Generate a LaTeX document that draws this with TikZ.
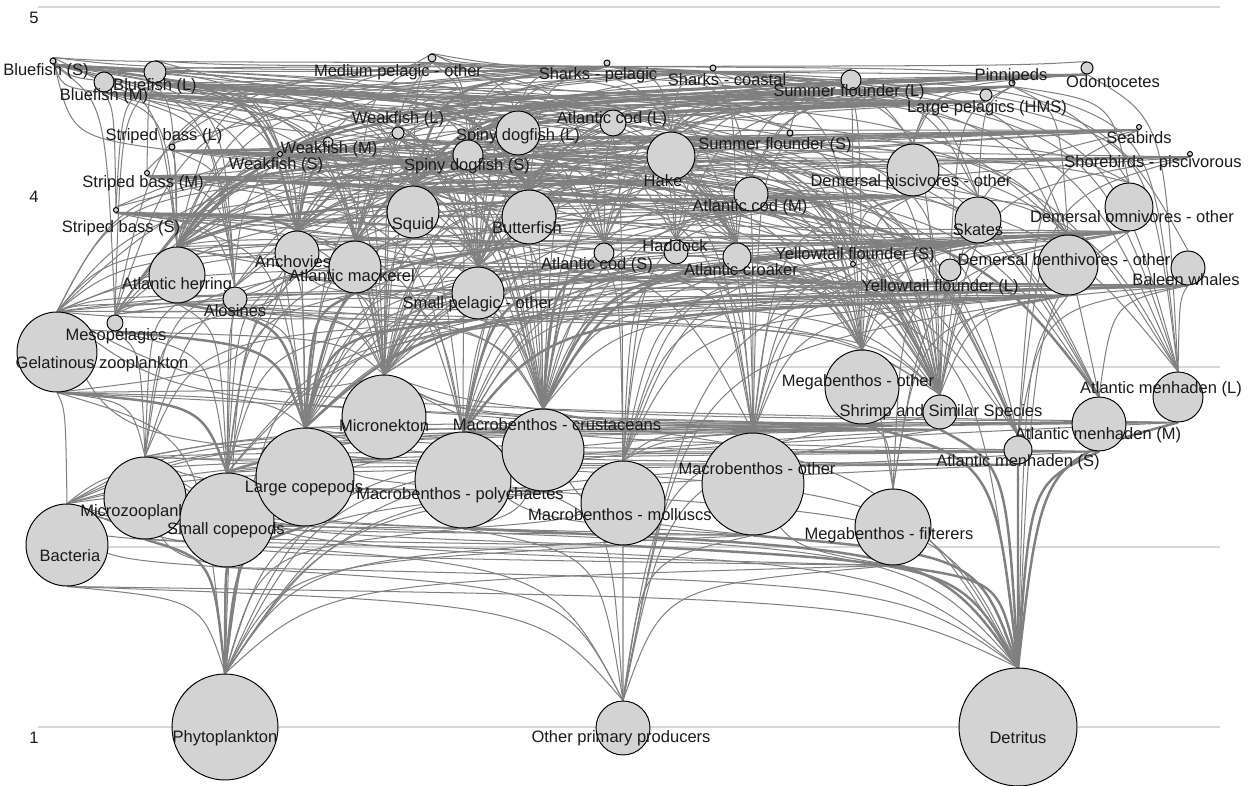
\documentclass[tikz,border=0pt]{standalone}
\usepackage{fontspec}
\setmainfont{Liberation Sans}
\usepackage{xcolor}
\usepackage{tikz}
\usetikzlibrary{backgrounds, calc}
\definecolor{gris}{HTML}{808080}
\definecolor{grisclaro}{HTML}{D8D8D8}
\definecolor{relleno}{HTML}{D3D3D3}
\definecolor{texto}{HTML}{1A1A1A}
\tikzset{
  grupo/.style={circle, draw=black, line width=0.55pt, fill=relleno, inner sep=0pt},
  etiqueta/.style={font=\fontsize{9.4}{11}\selectfont, text=texto, inner sep=0pt},
  flujo/.style={draw=gris, line width=0.58pt,
    to path={.. controls ($(\tikztostart |- \tikztotarget)!0.3!($(\tikztostart)!0.5!(\tikztotarget)$)$) .. (\tikztotarget)}},
  fuerte/.style={flujo, line width=1.4pt},
  nivel/.style={draw=grisclaro, line width=0.6pt}
}

\begin{document}
\begin{tikzpicture}[x=0.02cm, y=-0.02cm]
  \useasboundingbox (0,0) rectangle (1254,786);

  % --- Niveles troficos ---
  \begin{scope}[on background layer]
    \foreach \ny in {7,367,547,727}
      \draw[nivel] (38,\ny) -- (1220,\ny);
  \end{scope}
  \node[etiqueta] (n5) at (34,18) {5};
  \node[etiqueta] (n4) at (34,197) {4};
  \node[etiqueta] (n1) at (34,738) {1};

  % --- Grupos funcionales (nombre/x/y/radio/texto/x texto/y texto) ---
  \foreach \n/\x/\y/\r/\t/\lx/\ly in {
    bfS/53/61/3/{Bluefish (S)}/46/71,
    bfM/104/82/10/{Bluefish (M)}/104/96,
    bfL/155/72/11/{Bluefish (L)}/155/86,
    sbL/172/147/3/{Striped bass (L)}/164/136,
    sbM/147/173/2.5/{Striped bass (M)}/143/183,
    sbS/116/210/2.5/{Striped bass (S)}/121/228,
    mpo/432/58/4/{Medium pelagic - other}/398/72,
    wfL/398/133/6/{Weakfish (L)}/398/119,
    wfM/328/142/5/{Weakfish (M)}/329/149,
    wfS/280/154/2.5/{Weakfish (S)}/276/165,
    shp/607/63/3/{Sharks - pelagic}/598/75,
    shc/713/68/3/{Sharks - coastal}/727/80,
    sfL/851/80/10/{Summer flounder (L)}/849/92,
    sfS/790/133/3/{Summer flounder (S)}/775/145,
    pin/1012/83/3/{Pinnipeds}/1011/76,
    odo/1087/68/6/{Odontocetes}/1113/82,
    lph/986/95/6/{Large pelagics (HMS)}/987/108,
    sea/1139/127/2.5/{Seabirds}/1139/138,
    sho/1190/154/2.5/{Shorebirds - piscivorous}/1153/163,
    sdL/518/133/22/{Spiny dogfish (L)}/518/136,
    sdS/468/155/15/{Spiny dogfish (S)}/467/166,
    acL/613/123/13/{Atlantic cod (L)}/612/119,
    hak/671/156/24/{Hake}/663/181,
    dpo/913/170/26/{Demersal piscivores - other}/911/182,
    acM/751/194/17/{Atlantic cod (M)}/750/207,
    squ/413/212/26/{Squid}/413/225,
    but/529/217/27/{Butterfish}/527/228,
    ska/978/220/23/{Skates}/978/230,
    dom/1129/207/24/{Demersal omnivores - other}/1132/217,
    anc/297/253/22/{Anchovies}/293/262,
    mac/355/267/26/{Atlantic mackerel}/352/276,
    her/177/275/28/{Atlantic herring}/177/285,
    alo/235/299/12/{Alosines}/235/311,
    spo/478/293/26/{Small pelagic - other}/478/304,
    acS/604/253/10/{Atlantic cod (S)}/597/265,
    had/676/252/12/{Haddock}/675/246,
    cro/737/257/14/{Atlantic croaker}/741/270,
    yfS/853/264/2.5/{Yellowtail flounder (S)}/855/255,
    yfL/950/270/11/{Yellowtail flounder (L)}/940/287,
    dbo/1068/265/30/{Demersal benthivores - other}/1064/260,
    bal/1188/268/17/{Baleen whales}/1186/280,
    gel/57/352/40/{Gelatinous zooplankton}/102/364,
    mes/115/323/8/{Mesopelagics}/116/336,
    meo/862/387/37/{Megabenthos - other}/858/382,
    shr/940/412/17/{Shrimp and Similar Species}/941/412,
    amL/1178/397/25/{Atlantic menhaden (L)}/1161/389,
    amM/1099/424/27/{Atlantic menhaden (M)}/1098/435,
    amS/1018/450/14/{Atlantic menhaden (S)}/1018/462,
    mic/384/417/42/{Micronekton}/384/426,
    mbp/463/480/48/{Macrobenthos - polychaetes}/460/495,
    mbc/543/450/41/{Macrobenthos - crustaceans}/557/425,
    bac/67/545/41/{Bacteria}/70/556,
    mzo/145/498/41/{Microzooplankton}/145/512,
    sco/227/520/47/{Small copepods}/226/530,
    lco/305/477/49/{Large copepods}/304/488,
    mbm/623/503/42/{Macrobenthos - molluscs}/620/515,
    mbo/753/484/51/{Macrobenthos - other}/757/469,
    mef/893/527/38/{Megabenthos - filterers}/889/535,
    phy/225/727/53/{Phytoplankton}/225/738,
    opp/623/728/27/{Other primary producers}/621/738,
    det/1018/727/59/{Detritus}/1018/738}{
    \node[grupo, minimum size=\r*0.04cm] (\n) at (\x,\y) {};
    \node[etiqueta] (\n-txt) at (\lx,\ly) {\t};
  }

  % --- Flujos presa -> depredador ---
  \begin{scope}[on background layer]
  \foreach \dep/\presas in {
    bfL/{bfM,bfS,sbS,sbM,wfS,wfM,mpo,squ,but,anc,her,mac,alo,spo,mes,sdS,hak,acS,had,cro,amL,amM,amS,shr,mbc,mic,sfS,yfS,dbo},
    bfM/{bfS,squ,but,anc,her,mac,alo,spo,wfS,sbS,amM,amS,shr,mbc,mic,cro,hak,acS,sfS},
    bfS/{anc,spo,shr,mbc,mic,amS,but,squ,lco,alo,her,cro,wfS,mes},
    sbL/{her,mac,alo,amL,amM,squ,but,wfS,wfM,bfS,hak,cro,mbc,meo,shr,spo,sdS,acS},
    sbM/{amM,amS,alo,anc,her,shr,mbc,mbp,meo,cro,spo,wfS,squ,but},
    sbS/{anc,amS,shr,mbc,mbp,mic,lco,alo,spo,cro,mbo},
    wfL/{anc,but,squ,amS,amM,shr,spo,wfS,cro,her,mbc,mic},
    wfM/{anc,but,shr,squ,amS,spo,mbc,mic,cro},
    wfS/{shr,mbc,mic,lco,sco,anc,mbp},
    mpo/{squ,but,her,mac,spo,anc,hak,mes,mic,amL,sdS,acS,cro,bfS},
    shp/{squ,bfL,bfM,mac,her,hak,but,spo,mpo,sdS,sdL,acM,dpo,ska,amL,bal,mes,wfL,sbL,odo,pin},
    shc/{sdS,ska,bfM,bfS,amL,amM,hak,squ,dbo,dom,sfL,wfM,sbM,meo,cro,spo,her,mac},
    sfL/{squ,her,anc,hak,spo,shr,mbc,meo,sfS,yfS,but,cro,wfS,sdS,acS,had},
    sfS/{shr,mbc,mbp,anc,squ,spo,mic,mbo,meo},
    pin/{her,mac,hak,squ,ska,acM,acS,spo,sdS,dbo,dom,but,had,yfL,amL,mes,dpo},
    odo/{squ,her,mac,hak,spo,but,mes,anc,amL,acS,sdS,mpo,dpo,acM},
    lph/{squ,bfL,bfM,mac,her,but,spo,mpo,hak,amL,anc,mes,sbL,wfL,sdS,acL,dpo},
    sea/{her,anc,spo,squ,mes,hak,mic,but,alo,amS,sbS,shr,gel,lco,mac},
    sho/{anc,spo,her,amS,shr,alo,mbc,sbS,bfS},
    sdL/{squ,her,mac,but,hak,spo,acS,had,ska,mbc,meo,gel,yfS,amL,dbo,dom,cro,acM,sdS,shr,mbo,anc},
    sdS/{squ,her,mac,but,spo,anc,hak,mbc,meo,gel,shr,mic,mbp,mbo,lco,acS},
    acL/{her,hak,squ,meo,mbc,shr,acS,had,yfS,ska,dbo,spo,mac,dom,sdS,mbo,mbm},
    acM/{her,mbc,meo,shr,hak,squ,spo,mbp,mbm,yfS,had,sdS,mbo,mic},
    acS/{mbc,mbp,shr,meo,mic,lco,mbo,mbm},
    hak/{squ,her,mac,but,spo,anc,mic,shr,mbc,mes,acS,had,cro,yfS,meo,gel,lco,alo,amS},
    dpo/{squ,her,mac,but,spo,anc,hak,mic,shr,mbc,mes,meo,acS,had,yfS,dbo,mbo,sdS},
    ska/{mbc,meo,shr,mbp,her,hak,squ,spo,mbm,mbo,yfS,dbo,sdS,cro,had,acS,mic,anc},
    dom/{mbc,mbp,mbm,mbo,meo,mef,shr,det,opp,squ,spo,mic,gel,lco},
    squ/{her,spo,anc,mic,lco,sco,but,mac,shr,hak,mes,gel},
    but/{lco,sco,mic,gel,mzo,shr,mbc},
    anc/{lco,sco,mzo,mic,phy,mbc,mbp},
    mac/{lco,sco,mic,gel,squ,anc,shr,mes,spo,mbc},
    her/{lco,sco,mic,mzo,gel,mbc,shr,anc,mes},
    alo/{lco,sco,mic,mzo,anc,shr,mbc,mes,gel},
    spo/{lco,sco,mic,mzo,gel,mbc,shr,phy},
    had/{mbp,mbc,mbm,mbo,meo,mef,shr,mic,gel,her,lco},
    cro/{mbp,mbc,mbm,mbo,shr,meo,mic,anc,det,lco},
    yfS/{mbp,mbc,mbm,mbo,mic,lco,shr},
    yfL/{mbp,mbc,mbm,mbo,mic,meo,shr,mef},
    dbo/{mbp,mbc,mbm,mbo,meo,mef,shr,mic,opp,det,gel,lco,sco,squ},
    bal/{lco,sco,mic,her,anc,spo,mac,amL,amM,mes,gel,amS,shr},
    mes/{lco,sco,mic,mzo,gel},
    gel/{lco,sco,mzo,phy,mic,bac,det,anc},
    meo/{mbp,mbc,mbm,mbo,mef,det,opp,phy,shr,gel,mic,bac},
    shr/{mbc,mbp,mic,lco,sco,mzo,det,phy,opp,bac,mbm},
    amL/{phy,mzo,lco,sco,det,mic,bac,gel},
    amM/{phy,mzo,lco,sco,det,mic,bac},
    amS/{phy,mzo,sco,det,bac,lco},
    mic/{lco,sco,mzo,phy,gel,bac,det},
    mbc/{det,phy,opp,bac,mzo,mbp,sco,lco},
    mbp/{det,phy,opp,bac,mzo,mbc,mbm},
    mzo/{phy,bac,det,opp},
    lco/{phy,mzo,sco,det,bac},
    sco/{phy,mzo,bac,det,opp},
    bac/{det,phy,opp},
    mbm/{det,phy,opp,bac,mzo},
    mbo/{det,phy,opp,bac,mzo,mbp,mbc},
    mef/{det,phy,opp,bac,mzo,mbo}}{
    \foreach \pre in \presas
      \draw[flujo] (\pre.north) to (\dep.south);
  }
  % flujos grandes
  \foreach \dep/\pre in {amL/det, amM/det, amS/det, mbo/det, mef/det, mbp/det,
      mbm/det, meo/det, sco/phy, lco/phy, mzo/phy, her/lco, sbS/anc, mac/lco,
      spo/lco, but/lco, bal/lco, hak/squ, dpo/her, sdL/her, dom/mbc, dbo/mbp,
      ska/mbc, bfS/anc, sbM/amM, mes/lco, gel/sco, acS/mbc, had/mbp, shr/det,
      bfL/but, shp/squ, lph/squ, sfL/squ, odo/her, pin/her, wfL/anc}
    \draw[fuerte] (\pre.north) to (\dep.south);
  \end{scope}

\end{tikzpicture}
\end{document}
